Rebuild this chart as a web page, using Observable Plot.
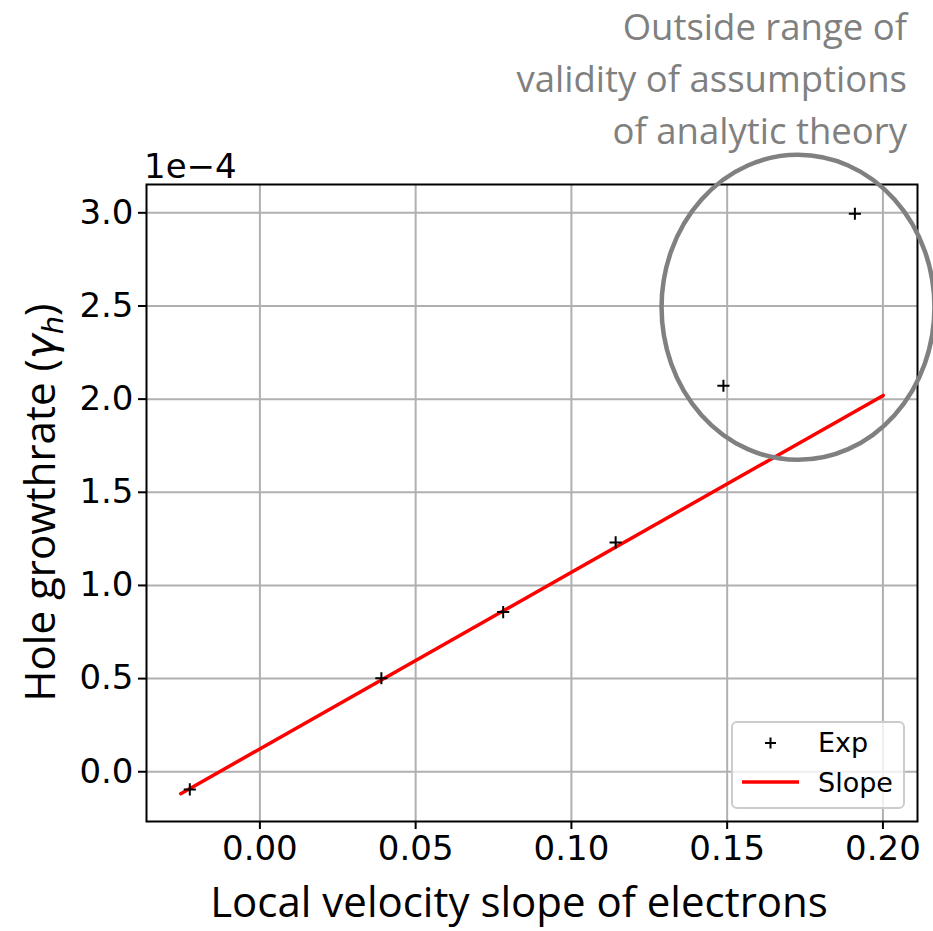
<!DOCTYPE html>
<html>
<head>
<meta charset="utf-8">
<script src="https://cdn.jsdelivr.net/npm/d3@7"></script>
<script src="https://cdn.jsdelivr.net/npm/@observablehq/plot@0.6"></script>
<style>
  body { margin: 0; background: #fff; }
  #chart svg { display: block; }
</style>
</head>
<body>
<div id="chart"></div>
<script>
// ---- data (y values in units of 1e-4) ----
const expX = [-0.0225, 0.0390, 0.0781, 0.1142, 0.1488, 0.1910];
const expY = [-0.095, 0.502, 0.857, 1.231, 2.072, 2.995];
const slopeX = [-0.0254, 0.2001];
const slopeY = [-0.118, 2.020];
const xTicks = [0.00, 0.05, 0.10, 0.15, 0.20];
const yTicks = [0.0, 0.5, 1.0, 1.5, 2.0, 2.5, 3.0];
const xDomain = [-0.0364, 0.2111];
const yDomain = [-0.267, 3.152];
const offsetText = "1e\u22124";
const xLabel = "Local velocity slope of electrons";
const yLabel = "Hole growthrate ";
const legendLabels = ["Exp", "Slope"];
const annotationLines = ["Outside range of", "validity of assumptions", "of analytic theory"];
const ellipseCenter = [0.1729, 2.490];
const ellipseRadii = [0.0438, 0.8186];

const expData = expX.map((x, i) => ({x, y: expY[i]}));
const slopeData = slopeX.map((x, i) => ({x, y: slopeY[i]}));

const W = 933, H = 931;
const calibriLike = "'Open Sans', Lato, sans-serif";

const chart = Plot.plot({
  width: W,
  height: H,
  marginLeft: 146,
  marginRight: 16,
  marginTop: 184,
  marginBottom: 110,
  style: {fontFamily: "'DejaVu Sans', sans-serif", fontSize: "34px", color: "#000", background: "#fff"},
  x: {domain: xDomain, label: null},
  y: {domain: yDomain, label: null},
  marks: [
    Plot.gridX(xTicks, {stroke: "#b0b0b0", strokeOpacity: 1, strokeWidth: 2}),
    Plot.gridY(yTicks, {stroke: "#b0b0b0", strokeOpacity: 1, strokeWidth: 2}),
    Plot.axisX(xTicks, {tickSize: 8, tickPadding: 6, tickFormat: d3.format(".2f"), strokeWidth: 2, label: null}),
    Plot.axisY(yTicks, {tickSize: 8, tickPadding: 5, tickFormat: d3.format(".1f"), strokeWidth: 2, label: null}),
    Plot.line(slopeData, {x: "x", y: "y", stroke: "#ff0000", strokeWidth: 3.5}),
    Plot.dot(expData, {x: "x", y: "y", symbol: "plus", r: 4, stroke: "#000", strokeWidth: 2}),
    Plot.frame({stroke: "#000", strokeWidth: 2})
  ]
});

document.getElementById("chart").appendChild(chart);

const svg = d3.select(chart).attr("overflow", "hidden");
const xs = chart.scale("x"), ys = chart.scale("y");
const fx0 = xs.range[0];
const fy0 = ys.range[1], fy1 = ys.range[0];

// offset text "1e-4"
svg.append("text")
  .attr("x", fx0 - 2).attr("y", fy0 - 6)
  .attr("text-anchor", "start")
  .attr("font-family", "'DejaVu Sans', sans-serif").attr("font-size", 34)
  .attr("fill", "#000")
  .text(offsetText);

// x label
svg.append("text")
  .attr("x", 519).attr("y", 917)
  .attr("text-anchor", "middle")
  .attr("font-family", calibriLike).attr("font-size", 42)
  .attr("fill", "#000")
  .text(xLabel);

// y label with math gamma_h
const yl = svg.append("text")
  .attr("transform", `translate(55, ${(fy0 + fy1) / 2}) rotate(-90)`)
  .attr("text-anchor", "middle")
  .attr("font-family", calibriLike).attr("font-size", 42)
  .attr("fill", "#000");
yl.append("tspan").text(yLabel + "(");
yl.append("tspan").attr("font-family", "'DejaVu Sans', sans-serif").attr("font-style", "italic").text("\u03b3");
yl.append("tspan").attr("font-family", "'DejaVu Sans', sans-serif").attr("font-style", "italic")
  .attr("font-size", 29).attr("dy", 8).text("h");
yl.append("tspan").attr("dy", -8).text(")");

// legend
const lg = svg.append("g");
lg.append("rect")
  .attr("x", 732).attr("y", 722).attr("width", 172).attr("height", 86)
  .attr("rx", 5).attr("fill", "#fff").attr("fill-opacity", 0.8)
  .attr("stroke", "#cccccc").attr("stroke-width", 2);
lg.append("path")
  .attr("d", "M765,743h11M770.5,737.5v11")
  .attr("stroke", "#000").attr("stroke-width", 2);
lg.append("line")
  .attr("x1", 742).attr("x2", 799).attr("y1", 782).attr("y2", 782)
  .attr("stroke", "#ff0000").attr("stroke-width", 3.5);
legendLabels.forEach((t, i) => {
  lg.append("text")
    .attr("x", 818).attr("y", 752 + i * 40)
    .attr("text-anchor", "start")
    .attr("font-family", "'DejaVu Sans', sans-serif").attr("font-size", 27)
    .attr("fill", "#000").text(t);
});

// ellipse annotation
svg.append("ellipse")
  .attr("cx", xs.apply(ellipseCenter[0]))
  .attr("cy", ys.apply(ellipseCenter[1]))
  .attr("rx", xs.apply(ellipseCenter[0] + ellipseRadii[0]) - xs.apply(ellipseCenter[0]))
  .attr("ry", ys.apply(ellipseCenter[1]) - ys.apply(ellipseCenter[1] + ellipseRadii[1]))
  .attr("fill", "none").attr("stroke", "#808080").attr("stroke-width", 4.5);

// annotation text
annotationLines.forEach((t, i) => {
  svg.append("text")
    .attr("x", 907).attr("y", 40 + i * 52)
    .attr("text-anchor", "end")
    .attr("font-family", calibriLike).attr("font-size", 36.5)
    .attr("fill", "#808080").text(t);
});
</script>
</body>
</html>
